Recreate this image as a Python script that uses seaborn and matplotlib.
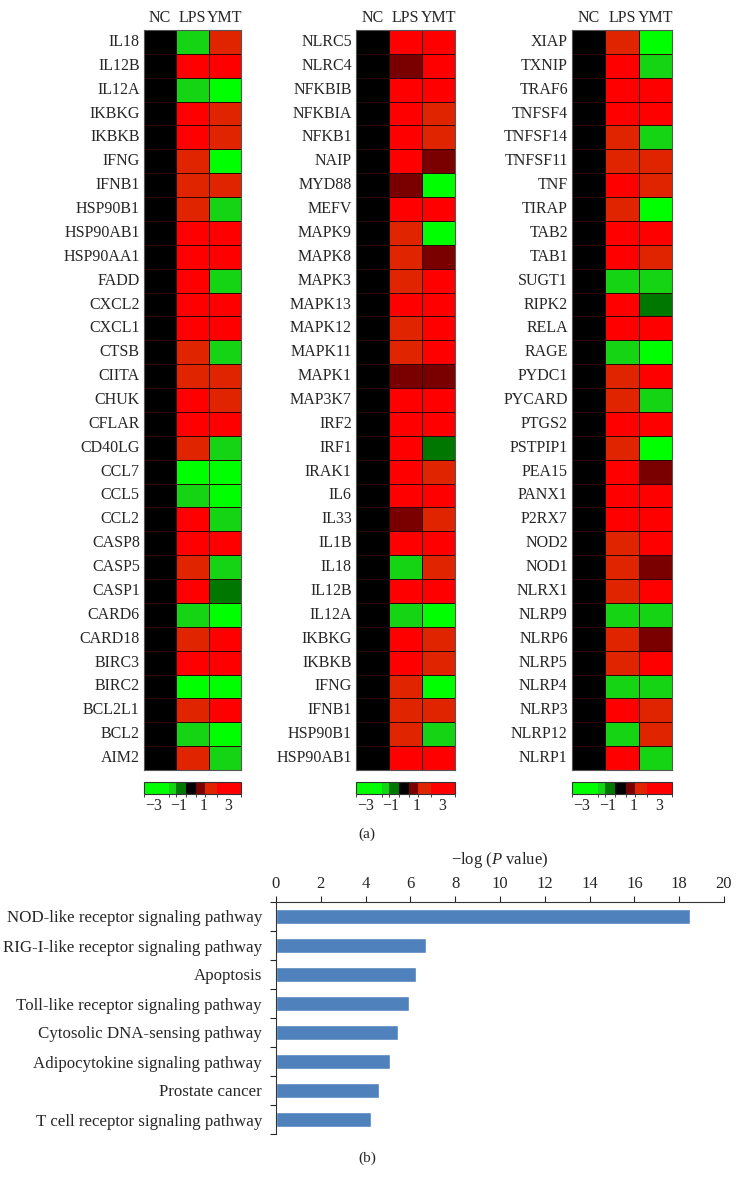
import numpy as np
import pandas as pd
import matplotlib
matplotlib.use("Agg")
import matplotlib.pyplot as plt
from matplotlib.colors import ListedColormap, BoundaryNorm
import seaborn as sns

sns.set_style("ticks")
plt.rcParams["font.family"] = ["Liberation Serif", "DejaVu Serif"]
plt.rcParams["mathtext.fontset"] = "custom"
plt.rcParams["mathtext.rm"] = "Liberation Serif"
plt.rcParams["mathtext.it"] = "Liberation Serif:italic"

# ---------------- data ----------------
conditions = ["NC", "LPS", "YMT"]

genes1 = ["IL18", "IL12B", "IL12A", "IKBKG", "IKBKB", "IFNG", "IFNB1", "HSP90B1",
          "HSP90AB1", "HSP90AA1", "FADD", "CXCL2", "CXCL1", "CTSB", "CIITA", "CHUK",
          "CFLAR", "CD40LG", "CCL7", "CCL5", "CCL2", "CASP8", "CASP5", "CASP1",
          "CARD6", "CARD18", "BIRC3", "BIRC2", "BCL2L1", "BCL2", "AIM2"]
lps1 = [-1.5, 3, -1.5, 3, 3, 2, 2, 2, 3, 3, 3, 3, 3, 2, 2, 3, 3, 2, -3, -1.5,
        3, 3, 2, 3, -1.5, 2, 3, -3, 2, -1.5, 2]
ymt1 = [2, 3, -3, 2, 2, -3, 2, -1.5, 3, 3, -1.5, 3, 3, -1.5, 2, 2, 3, -1.5, -3, -3,
        -1.5, 3, -1.5, -1, -3, 3, 3, -3, 3, -3, -1.5]

genes2 = ["NLRC5", "NLRC4", "NFKBIB", "NFKBIA", "NFKB1", "NAIP", "MYD88", "MEFV",
          "MAPK9", "MAPK8", "MAPK3", "MAPK13", "MAPK12", "MAPK11", "MAPK1", "MAP3K7",
          "IRF2", "IRF1", "IRAK1", "IL6", "IL33", "IL1B", "IL18", "IL12B", "IL12A",
          "IKBKG", "IKBKB", "IFNG", "IFNB1", "HSP90B1", "HSP90AB1"]
lps2 = [3, 1, 3, 3, 3, 3, 1, 3, 2, 2, 2, 3, 2, 2, 1, 3, 3, 3, 3, 3, 1, 3, -1.5, 3,
        -1.5, 3, 3, 2, 2, 2, 3]
ymt2 = [3, 3, 3, 2, 2, 1, -3, 3, -3, 1, 3, 3, 3, 3, 1, 3, 3, -1, 2, 3, 2, 3, 2, 3,
        -3, 2, 2, -3, 2, -1.5, 3]

genes3 = ["XIAP", "TXNIP", "TRAF6", "TNFSF4", "TNFSF14", "TNFSF11", "TNF", "TIRAP",
          "TAB2", "TAB1", "SUGT1", "RIPK2", "RELA", "RAGE", "PYDC1", "PYCARD", "PTGS2",
          "PSTPIP1", "PEA15", "PANX1", "P2RX7", "NOD2", "NOD1", "NLRX1", "NLRP9",
          "NLRP6", "NLRP5", "NLRP4", "NLRP3", "NLRP12", "NLRP1"]
lps3 = [2, 3, 3, 3, 2, 2, 3, 2, 3, 3, -1.5, 3, 3, -1.5, 2, 2, 3, 2, 3, 3, 3, 2, 2, 2,
        -1.5, 2, 2, -1.5, 3, -1.5, 3]
ymt3 = [-3, -1.5, 3, 3, -1.5, 2, 2, -3, 3, 2, -1.5, -1, 3, -3, 3, -1.5, 3, -3, 1, 3,
        3, 3, 1, 3, -1.5, 1, 3, -1.5, 2, 2, -1.5]

cbar_ticks = [-3, -1, 1, 3]

pathways = ["NOD-like receptor signaling pathway", "RIG-I-like receptor signaling pathway",
            "Apoptosis", "Toll-like receptor signaling pathway",
            "Cytosolic DNA-sensing pathway", "Adipocytokine signaling pathway",
            "Prostate cancer", "T cell receptor signaling pathway"]
neglogp = [18.47, 6.70, 6.26, 5.94, 5.43, 5.09, 4.58, 4.24]

# ---------------- colours ----------------
level_colors = ["#00ff00", "#14d414", "#007800", "#000000", "#7a0000", "#e02400", "#ff0000"]
bounds = [-3.75, -1.75, -1.2, -0.4, 0.4, 1.1, 2.1, 4.0]
cmap = ListedColormap(level_colors)
norm = BoundaryNorm(bounds, cmap.N)

W, H = 736, 1187
fig = plt.figure(figsize=(W / 100, H / 100), dpi=100)


def fx(px):
    return px / W


def fy(px):
    return 1 - px / H


panels = [
    (genes1, lps1, ymt1, 144, 97),
    (genes2, lps2, ymt2, 356, 99),
    (genes3, lps3, ymt3, 572, 100),
]
top_px, bot_px = 30, 770
for genes, lps, ymt, left, width in panels:
    df = pd.DataFrame({"NC": [0] * len(genes), "LPS": lps, "YMT": ymt}, index=genes)[conditions]
    ax = fig.add_axes([fx(left), fy(bot_px), width / W, (bot_px - top_px) / H])
    cax = fig.add_axes([fx(left), fy(794), width / W, 12 / H])
    sns.heatmap(df, ax=ax, cmap=cmap, norm=norm, linewidths=0.7, linecolor="#2a0808",
                cbar=True, cbar_ax=cax,
                cbar_kws={"orientation": "horizontal", "ticks": cbar_ticks,
                          "spacing": "proportional"})
    ax.xaxis.tick_top()
    ax.tick_params(axis="x", length=0, pad=3, labelsize=11.5)
    ax.tick_params(axis="y", length=0, pad=3, labelsize=11.5, rotation=0)
    ax.set_xlabel("")
    ax.set_ylabel("")
    for s in ax.spines.values():
        s.set_visible(True)
        s.set_color("#555555")
        s.set_linewidth(0.8)
    cb = ax.collections[0].colorbar
    cb.set_ticklabels(["\u22123", "\u22121", "1", "3"])
    cax.tick_params(length=0, labelsize=11.5, pad=3)
    cb.outline.set_edgecolor("#333333")
    cb.outline.set_linewidth(0.8)

fig.text(fx(367), fy(834), "(a)", ha="center", va="center", fontsize=11)

# ---------------- bar chart ----------------
axb = fig.add_axes([fx(276), fy(1134), 448 / W, (1134 - 902) / H])
bdf = pd.DataFrame({"pathway": pathways, "value": neglogp})
sns.barplot(data=bdf, x="value", y="pathway", orient="h", color="#4f81bd",
            saturation=1, width=0.52, ax=axb)
axb.set_xlim(0, 20)
axb.set_ylim(len(pathways) - 0.5, -0.5)
axb.set_xticks(np.arange(0, 21, 2))
axb.xaxis.tick_top()
axb.xaxis.set_label_position("top")
axb.set_xlabel("\u2212log ($P$ value)", fontsize=12, labelpad=9)
axb.set_ylabel("")
axb.set_yticks(np.arange(len(pathways)))
axb.set_yticklabels(pathways)
axb.set_yticks(np.arange(-0.5, len(pathways), 1), minor=True)
axb.tick_params(axis="y", which="major", length=0, pad=10, labelsize=12.2)
axb.tick_params(axis="y", which="minor", length=4, width=0.8, direction="out")
axb.tick_params(axis="x", length=4, width=0.8, direction="out", labelsize=12, pad=3)
for side in ["right", "bottom"]:
    axb.spines[side].set_visible(False)
for side in ["top", "left"]:
    axb.spines[side].set_linewidth(0.8)
    axb.spines[side].set_color("#333333")

fig.text(fx(367), fy(1158), "(b)", ha="center", va="center", fontsize=11)

fig.savefig("out.png", dpi=100)
